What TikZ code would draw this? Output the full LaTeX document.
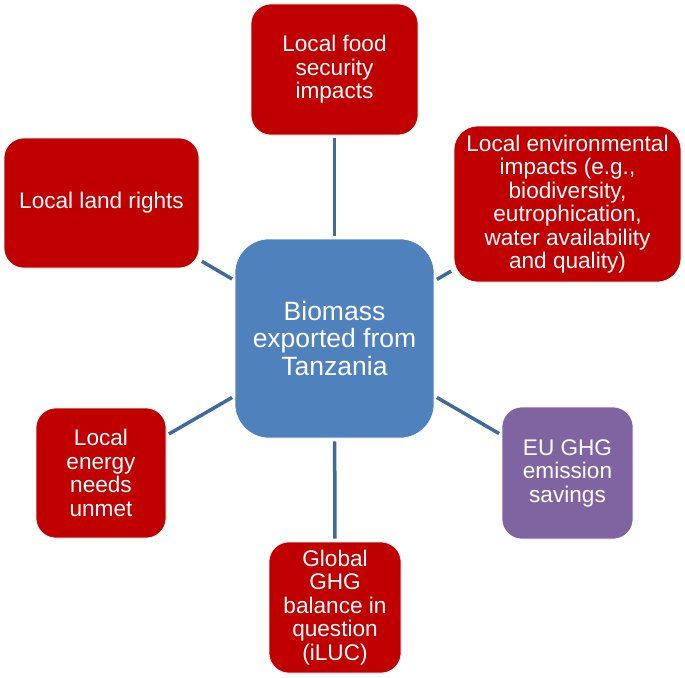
\documentclass[tikz,border=0pt]{standalone}
\usepackage{fontspec}
\setmainfont{Liberation Sans}
\definecolor{redbox}{HTML}{C00000}
\definecolor{bluebox}{HTML}{4F81BD}
\definecolor{purplebox}{HTML}{8064A2}
\definecolor{linkcol}{HTML}{3F6A9C}
\begin{document}
\begin{tikzpicture}[x=1pt,y=-1pt,
  box/.style={rounded corners=20pt, fill=redbox, draw=white, line width=0.6pt,
    text=white, align=center, inner sep=0pt,
    font=\fontsize{22.6}{23.5}\selectfont},
  link/.style={draw=linkcol, line width=3.5pt, shorten <=3pt, shorten >=3pt}]
\useasboundingbox (0,0) rectangle (685,677);
\node[box, fill=bluebox, rounded corners=34pt, minimum width=199pt, minimum height=199pt,
  font=\fontsize{26.5}{27.5}\selectfont] (c) at (334.5,338.5) {Biomass\\exported from\\Tanzania};
\node[box, minimum width=167pt, minimum height=131pt] (t) at (334.5,69.5) {Local food\\security\\impacts};
\node[box, rounded corners=24pt, minimum width=227pt, minimum height=156pt] (tr) at (567.5,204) {Local environmental\\impacts (e.g.,\\biodiversity,\\eutrophication,\\water availability\\and quality)};
\node[box, minimum width=195pt, minimum height=130pt] (tl) at (101.5,203) {Local land rights};
\node[box, minimum width=130pt, minimum height=130pt] (bl) at (101,473) {Local\\energy\\needs\\unmet};
\node[box, minimum width=132pt, minimum height=131pt] (b) at (335,607.5) {Global\\GHG\\balance in\\question\\(iLUC)};
\node[box, fill=purplebox, minimum width=131pt, minimum height=132pt] (br) at (567.5,473) {EU GHG\\emission\\savings};
\draw[link] (c) -- (t);
\draw[link] (c) -- (tr);
\draw[link] (c) -- (tl);
\draw[link] (c) -- (bl);
\draw[link] (c) -- (b);
\draw[link] (c) -- (br);
\end{tikzpicture}
\end{document}
